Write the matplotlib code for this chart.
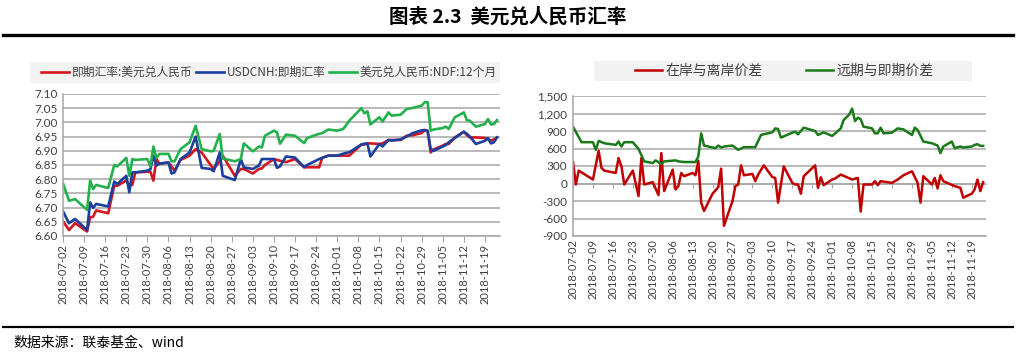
import pandas as pd
import matplotlib
matplotlib.use("Agg")
import matplotlib.pyplot as plt
import matplotlib.dates as mdates
from matplotlib.patches import Rectangle
from matplotlib.lines import Line2D
from matplotlib.ticker import MultipleLocator, FuncFormatter

plt.rcParams["font.family"] = ["Noto Sans CJK SC", "DejaVu Sans"]

# ---- left chart: spot / CNH / NDF 12M ----
left_dates = [
    "2018-07-02", "2018-07-04", "2018-07-06", "2018-07-10", "2018-07-11", "2018-07-12",
    "2018-07-13", "2018-07-17", "2018-07-19", "2018-07-20", "2018-07-23", "2018-07-24",
    "2018-07-25", "2018-07-26", "2018-07-30", "2018-07-31",
    "2018-08-01", "2018-08-02", "2018-08-03", "2018-08-06", "2018-08-07", "2018-08-08",
    "2018-08-10", "2018-08-13", "2018-08-15", "2018-08-17", "2018-08-20", "2018-08-21",
    "2018-08-23", "2018-08-24", "2018-08-28", "2018-08-30", "2018-08-31",
    "2018-09-03", "2018-09-05", "2018-09-06", "2018-09-07", "2018-09-10", "2018-09-11",
    "2018-09-12", "2018-09-14", "2018-09-17", "2018-09-20", "2018-09-21", "2018-09-25",
    "2018-09-26", "2018-09-28",
    "2018-10-01", "2018-10-03", "2018-10-05", "2018-10-09", "2018-10-10", "2018-10-11",
    "2018-10-12", "2018-10-15", "2018-10-16", "2018-10-18", "2018-10-19", "2018-10-22",
    "2018-10-24", "2018-10-26", "2018-10-29", "2018-10-30", "2018-10-31",
    "2018-11-01", "2018-11-02", "2018-11-05", "2018-11-06", "2018-11-07", "2018-11-09",
    "2018-11-12", "2018-11-13", "2018-11-14", "2018-11-16", "2018-11-19", "2018-11-20",
    "2018-11-21", "2018-11-22", "2018-11-23",
]
spot_cny = [
    6.652, 6.621, 6.645, 6.616, 6.666, 6.668, 6.690, 6.680, 6.777, 6.777, 6.795, 6.780,
    6.780, 6.824, 6.826, 6.826,
    6.795, 6.871, 6.854, 6.859, 6.845, 6.830, 6.868, 6.883, 6.906, 6.894, 6.850, 6.836,
    6.863, 6.883, 6.812, 6.836, 6.836,
    6.820, 6.836, 6.838, 6.850, 6.871, 6.868, 6.865, 6.860, 6.871, 6.842, 6.842, 6.842,
    6.875, 6.883,
    6.883, 6.883, 6.883, 6.922, 6.922, 6.926, 6.926, 6.924, 6.926, 6.938, 6.938, 6.938,
    6.953, 6.955, 6.962, 6.973, 6.970,
    6.894, 6.905, 6.918, 6.924, 6.924, 6.947, 6.967, 6.955, 6.947, 6.947, 6.945, 6.940,
    6.936, 6.940, 6.947,
]
spot_cnh = [
    6.687, 6.645, 6.660, 6.621, 6.718, 6.699, 6.713, 6.704, 6.792, 6.783, 6.812, 6.754,
    6.824, 6.824, 6.830, 6.835,
    6.883, 6.848, 6.855, 6.859, 6.820, 6.824, 6.871, 6.894, 6.950, 6.840, 6.836, 6.828,
    6.894, 6.812, 6.797, 6.871, 6.842,
    6.836, 6.848, 6.871, 6.871, 6.871, 6.840, 6.845, 6.880, 6.876, 6.842, 6.850, 6.871,
    6.875, 6.883,
    6.883, 6.890, 6.895, 6.922, 6.925, 6.926, 6.880, 6.924, 6.915, 6.938, 6.936, 6.940,
    6.950, 6.962, 6.972, 6.973, 6.970,
    6.906, 6.900, 6.915, 6.920, 6.930, 6.945, 6.967, 6.960, 6.950, 6.924, 6.935, 6.945,
    6.926, 6.930, 6.947,
]
ndf_12m = [
    6.785, 6.724, 6.730, 6.692, 6.795, 6.765, 6.780, 6.769, 6.850, 6.845, 6.875, 6.812,
    6.871, 6.868, 6.871, 6.845,
    6.915, 6.875, 6.889, 6.889, 6.863, 6.863, 6.906, 6.930, 6.988, 6.906, 6.898, 6.900,
    6.959, 6.873, 6.863, 6.871, 6.926,
    6.898, 6.915, 6.912, 6.953, 6.971, 6.965, 6.925, 6.957, 6.953, 6.927, 6.945, 6.960,
    6.962, 6.975,
    6.971, 6.977, 7.006, 7.050, 7.032, 7.039, 6.993, 7.018, 7.003, 7.035, 7.024, 7.027,
    7.047, 7.051, 7.059, 7.071, 7.071,
    6.971, 6.975, 6.980, 6.985, 6.977, 7.018, 7.035, 7.008, 7.006, 6.985, 6.994, 7.012,
    6.993, 6.994, 7.008,
]
left_labels = ["即期汇率:美元兑人民币", "USDCNH:即期汇率", "美元兑人民币:NDF:12个月"]

# ---- right chart: spreads (pips) ----
onoff_dates = [
    "2018-07-02", "2018-07-03", "2018-07-04", "2018-07-09", "2018-07-11", "2018-07-12",
    "2018-07-13", "2018-07-17", "2018-07-18", "2018-07-19", "2018-07-20", "2018-07-23",
    "2018-07-25", "2018-07-26", "2018-07-27", "2018-07-30", "2018-08-01", "2018-08-02",
    "2018-08-03", "2018-08-06", "2018-08-07", "2018-08-08", "2018-08-09", "2018-08-10",
    "2018-08-13", "2018-08-14", "2018-08-15", "2018-08-16", "2018-08-17", "2018-08-20",
    "2018-08-22", "2018-08-23", "2018-08-24", "2018-08-27", "2018-08-28", "2018-08-29",
    "2018-08-30", "2018-08-31", "2018-09-03", "2018-09-04", "2018-09-05", "2018-09-07",
    "2018-09-10", "2018-09-11", "2018-09-12", "2018-09-14", "2018-09-17", "2018-09-18",
    "2018-09-19", "2018-09-20", "2018-09-21", "2018-09-25", "2018-09-26", "2018-09-27",
    "2018-09-28", "2018-10-01", "2018-10-02", "2018-10-04", "2018-10-08", "2018-10-10",
    "2018-10-11", "2018-10-12", "2018-10-15", "2018-10-16", "2018-10-17", "2018-10-18",
    "2018-10-22", "2018-10-24", "2018-10-26", "2018-10-29", "2018-10-31", "2018-11-01",
    "2018-11-02", "2018-11-05", "2018-11-06", "2018-11-07", "2018-11-08", "2018-11-09",
    "2018-11-13", "2018-11-15", "2018-11-16", "2018-11-19", "2018-11-20", "2018-11-21",
    "2018-11-22", "2018-11-23",
]
onoff_spread = [
    368, -17, 221, 68, 560, 266,
    221, 181, 436, 294, -17, 221,
    -215, 436, -17, 23, -198, 521,
    -130, 238, -102, -45, 181, 125,
    181, 141, 390, -328, -470, -175,
    -62, 255, -725, -300, -45, -17,
    311, 141, 164, 40, 153, 311,
    110, 96, -328, 294, 11, -17,
    -17, -175, 125, 311, -74, 107,
    -28, 68, 85, 153, 68, 96,
    -481, -17, -17, 40, -28, 40,
    11, 68, 141, 209, 11, -328,
    125, -17, 96, -85, 141, 40,
    -45, -74, -243, -175, -102, 68,
    -130, 23,
]
fwd_dates = [
    "2018-07-02", "2018-07-05", "2018-07-09", "2018-07-10", "2018-07-11", "2018-07-13",
    "2018-07-17", "2018-07-18", "2018-07-19", "2018-07-20", "2018-07-23", "2018-07-25",
    "2018-07-27", "2018-07-30", "2018-07-31", "2018-08-02", "2018-08-03", "2018-08-07",
    "2018-08-08", "2018-08-10", "2018-08-14", "2018-08-15", "2018-08-16", "2018-08-17",
    "2018-08-21", "2018-08-22", "2018-08-23", "2018-08-24", "2018-08-27", "2018-08-29",
    "2018-08-31", "2018-09-04", "2018-09-06", "2018-09-07", "2018-09-10", "2018-09-11",
    "2018-09-12", "2018-09-13", "2018-09-17", "2018-09-18", "2018-09-19", "2018-09-21",
    "2018-09-25", "2018-09-26", "2018-09-28", "2018-10-01", "2018-10-03", "2018-10-04",
    "2018-10-05", "2018-10-07", "2018-10-08", "2018-10-09", "2018-10-10", "2018-10-11",
    "2018-10-12", "2018-10-15", "2018-10-16", "2018-10-17", "2018-10-18", "2018-10-19",
    "2018-10-22", "2018-10-24", "2018-10-26", "2018-10-29", "2018-10-30", "2018-10-31",
    "2018-11-02", "2018-11-05", "2018-11-07", "2018-11-08", "2018-11-09", "2018-11-12",
    "2018-11-13", "2018-11-15", "2018-11-16", "2018-11-19", "2018-11-20", "2018-11-21",
    "2018-11-22", "2018-11-23",
]
fwd_spread = [
    973, 708, 708, 577, 730, 690,
    662, 719, 634, 708, 708, 594,
    379, 351, 396, 334, 379, 396,
    379, 368, 368, 464, 860, 651,
    606, 651, 617, 634, 651, 577,
    623, 623, 832, 845, 877, 945,
    934, 787, 872, 889, 843, 957,
    900, 832, 877, 815, 900, 945,
    1087, 1183, 1285, 1070, 1127, 1104,
    974, 945, 860, 860, 957, 860,
    872, 945, 928, 832, 957, 917,
    719, 690, 651, 521, 634, 719,
    606, 634, 617, 634, 662, 674,
    645, 645,
]
right_labels = ["在岸与离岸价差", "远期与即期价差"]

week_ticks = pd.date_range("2018-07-02", "2018-11-19", freq="7D")
x_start, x_end = pd.Timestamp("2018-07-02"), pd.Timestamp("2018-11-24")

GRID = "#a6a6a6"
TXT = "#404040"
W, H = 1017, 353


def px_box(x0, y0, x1, y1):
    return [x0 / W, 1 - y1 / H, (x1 - x0) / W, (y1 - y0) / H]


def style_axes(ax):
    ax.set_xlim(x_start, x_end)
    ax.grid(axis="y", color=GRID, linewidth=1.1)
    ax.set_axisbelow(True)
    for s in ["top", "right"]:
        ax.spines[s].set_visible(False)
    for s in ["left", "bottom"]:
        ax.spines[s].set_color(GRID)
        ax.spines[s].set_linewidth(1.1)
    ax.set_xticks(week_ticks)
    ax.xaxis.set_major_formatter(mdates.DateFormatter("%Y-%m-%d"))
    ax.tick_params(axis="x", rotation=90, labelsize=8, colors=TXT, color=GRID,
                   length=4, pad=2)
    ax.tick_params(axis="y", labelsize=8.5, colors=TXT, length=0, pad=4)
    for lab in ax.get_xticklabels() + ax.get_yticklabels():
        lab.set_fontfamily(["Lato", "DejaVu Sans"])


fig = plt.figure(figsize=(W / 100, H / 100), dpi=100)

# title and rules
fig.text(508 / W, 1 - 17 / H, "图表 2.3  美元兑人民币汇率", ha="center", va="center",
         fontsize=14, fontweight="bold", color="black")
fig.add_artist(Line2D([3 / W, 1013 / W], [1 - 35 / H] * 2, color="black", linewidth=2.4))
fig.add_artist(Line2D([3 / W, 1013 / W], [1 - 327 / H] * 2, color="black", linewidth=1.6))
fig.text(13 / W, 1 - 343 / H, "数据来源：联泰基金、wind", ha="left", va="center",
         fontsize=10, color="black")

# legend backgrounds
fig.add_artist(Rectangle((30 / W, 1 - 83 / H), 470 / W, 21 / H, transform=fig.transFigure,
                         facecolor="#f2f2f2", edgecolor="none", zorder=0))
fig.add_artist(Rectangle((594 / W, 1 - 81 / H), 378 / W, 20 / H, transform=fig.transFigure,
                         facecolor="#f2f2f2", edgecolor="none", zorder=0))

# left chart
ax1 = fig.add_axes(px_box(63, 94, 500, 236))
ld = pd.to_datetime(left_dates)
l1, = ax1.plot(ld, spot_cny, color="#d5161e", linewidth=1.9)
l2, = ax1.plot(ld, spot_cnh, color="#1b3f9e", linewidth=1.9)
l3, = ax1.plot(ld, ndf_12m, color="#22b14c", linewidth=1.9)
ax1.set_ylim(6.60, 7.10)
ax1.yaxis.set_major_locator(MultipleLocator(0.05))
ax1.yaxis.set_major_formatter(FuncFormatter(lambda v, p: f"{v:.2f}"))
style_axes(ax1)

fig.legend([l1, l2, l3], left_labels, loc="center", bbox_to_anchor=(269 / W, 1 - 72.5 / H),
           ncol=3, frameon=False, fontsize=8.5, handlelength=2.3, handletextpad=0.25,
           columnspacing=0.35, borderpad=0, labelcolor=TXT)

# right chart
ax2 = fig.add_axes(px_box(573, 96, 986, 236))
r1, = ax2.plot(pd.to_datetime(onoff_dates), onoff_spread, color="#c00000", linewidth=1.8)
r2, = ax2.plot(pd.to_datetime(fwd_dates), fwd_spread, color="#1a7a1a", linewidth=1.8)
ax2.set_ylim(-900, 1500)
ax2.yaxis.set_major_locator(MultipleLocator(300))
ax2.yaxis.set_major_formatter(FuncFormatter(lambda v, p: f"{v:,.0f}"))
style_axes(ax2)
ax2.tick_params(axis="x", length=0)

# horizontal axis line at zero with its own tick marks
zero_pos = (0 - (-900)) / (1500 - (-900))
sec = ax2.secondary_xaxis(zero_pos)
sec.set_xticks(mdates.date2num(week_ticks))
sec.tick_params(axis="x", labelbottom=False, labeltop=False, length=3, color=GRID)
sec.spines["bottom"].set_color(GRID)
sec.spines["bottom"].set_linewidth(1.1)

fig.legend([r1, r2], right_labels, loc="center", bbox_to_anchor=(784 / W, 1 - 71 / H),
           ncol=2, frameon=False, fontsize=10, handlelength=2.0, handletextpad=0.22,
           columnspacing=3.1, borderpad=0, labelcolor=TXT)

fig.savefig("out.png", dpi=100)
